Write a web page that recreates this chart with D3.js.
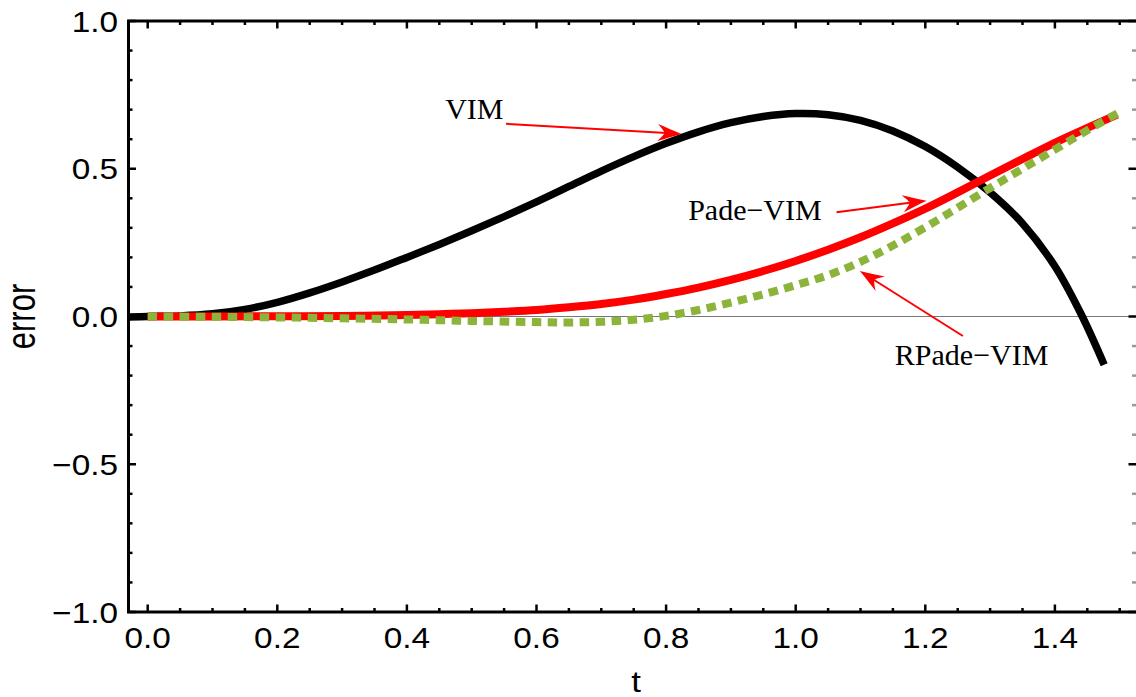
<!DOCTYPE html>
<html>
<head>
<meta charset="utf-8">
<script src="https://cdn.jsdelivr.net/npm/d3@7"></script>
<style>
	body { margin: 0; background: #fff; }
	svg { display: block; }
	.tick-label { font-family: "Liberation Sans", Arial, sans-serif; font-size: 29px; fill: #000; }
	.note { font-family: "Liberation Serif", "Times New Roman", serif; font-size: 30px; fill: #000; }
</style>
</head>
<body>
<svg id="chart"></svg>
<script>
const width = 1136
const height = 697

// VIM error (black)
const vimT = [-0.03, 0, 0.05, 0.1, 0.15, 0.2, 0.25, 0.3, 0.35, 0.4, 0.45, 0.5, 0.55, 0.6, 0.65, 0.7, 0.75, 0.8, 0.85, 0.9, 0.95, 1.0, 1.05, 1.1, 1.15, 1.2, 1.25, 1.3, 1.35, 1.4, 1.44, 1.476]
const vimErr = [-0.002, 0, 0.002, 0.009, 0.024, 0.048, 0.08, 0.117, 0.157, 0.2, 0.244, 0.29, 0.338, 0.388, 0.44, 0.492, 0.541, 0.586, 0.625, 0.656, 0.677, 0.687, 0.683, 0.664, 0.628, 0.575, 0.505, 0.42, 0.315, 0.17, 0.01, -0.163]

// Pade-VIM error (red)
const padeT = [0, 0.1, 0.2, 0.3, 0.4, 0.45, 0.5, 0.55, 0.6, 0.65, 0.7, 0.75, 0.8, 0.85, 0.9, 0.95, 1.0, 1.05, 1.1, 1.15, 1.2, 1.25, 1.3, 1.35, 1.4, 1.45, 1.496]
const padeErr = [0, 0, 0.001, 0.002, 0.005, 0.008, 0.011, 0.016, 0.022, 0.031, 0.042, 0.057, 0.076, 0.098, 0.124, 0.154, 0.188, 0.226, 0.268, 0.315, 0.365, 0.42, 0.477, 0.533, 0.588, 0.638, 0.683]

// RPade-VIM error (green, dotted)
const rpadeT = [0, 0.1, 0.2, 0.3, 0.4, 0.5, 0.6, 0.65, 0.7, 0.75, 0.8, 0.85, 0.9, 0.95, 1.0, 1.05, 1.1, 1.15, 1.2, 1.25, 1.3, 1.35, 1.4, 1.45, 1.505]
const rpadeErr = [0, -0.001, -0.003, -0.006, -0.01, -0.015, -0.019, -0.02, -0.018, -0.011, 0.002, 0.022, 0.047, 0.075, 0.106, 0.14, 0.185, 0.24, 0.302, 0.368, 0.435, 0.5, 0.565, 0.63, 0.698]

const xTicks = [0, 0.2, 0.4, 0.6, 0.8, 1.0, 1.2, 1.4]
const yTicks = [-1, -0.5, 0, 0.5, 1]

// annotation text + arrow, in data units
const noteLabels = ["VIM", "Pade\u2212VIM", "RPade\u2212VIM"]
const noteTextPos = [[0.459, 0.668], [0.834, 0.327], [1.153, -0.164]]
const noteArrowFrom = [[0.553, 0.652], [1.063, 0.353], [1.258, -0.066]]
const noteArrowTo = [[0.824, 0.618], [1.202, 0.392], [1.099, 0.154]]

const frame = { left: 128.5, right: 1138, top: 21, bottom: 612 }

const x = d3.scaleLinear()
	.domain([0, 1.4])
	.range([147.7, 147.7 + 1.4 * 648])
const y = d3.scaleLinear()
	.domain([-1, 1])
	.range([frame.bottom, frame.top])

const xMinor = d3.range(0, 1.55, 0.05).filter(t => x(t) < frame.right - 2)
const yMinor = d3.range(-10, 11, 1).map(d => d / 10)

const svg = d3.select("#chart")
	.attr("width", width)
	.attr("height", height)

// zero line
svg.append("line")
	.attr("x1", frame.left)
	.attr("x2", frame.right)
	.attr("y1", y(0))
	.attr("y2", y(0))
	.attr("stroke", "#777")
	.attr("stroke-width", 1.2)

// curves
const line = d3.line()
	.x(d => x(d[0]))
	.y(d => y(d[1]))
	.curve(d3.curveCatmullRom.alpha(0.5))

svg.append("path")
	.attr("d", line(d3.zip(vimT, vimErr)))
	.attr("fill", "none")
	.attr("stroke", "#000")
	.attr("stroke-width", 7.5)

svg.append("path")
	.attr("d", line(d3.zip(padeT, padeErr)))
	.attr("fill", "none")
	.attr("stroke", "#ff0000")
	.attr("stroke-width", 8)

svg.append("path")
	.attr("d", line(d3.zip(rpadeT, rpadeErr)))
	.attr("fill", "none")
	.attr("stroke", "#8db43a")
	.attr("stroke-width", 8)
	.attr("stroke-dasharray", "9.5,6.5")

// frame: left, bottom, top (right edge is off the page)
const framePath = `M${frame.right},${frame.top}H${frame.left}V${frame.bottom}H${frame.right}`
svg.append("path")
	.attr("d", framePath)
	.attr("fill", "none")
	.attr("stroke", "#000")
	.attr("stroke-width", 3)

// ticks on all four sides, pointing inward
function drawTicks(values, isMajor, side) {
	const len = isMajor ? 7.5 : 4
	const g = svg.append("g")
		.attr("stroke", side === "right" && !isMajor ? "#999" : "#000")
		.attr("stroke-width", 2.5)
	g.selectAll("line")
		.data(values)
		.enter().append("line")
		.attr("x1", d => side === "left" ? frame.left : side === "right" ? frame.right : x(d))
		.attr("x2", d => side === "left" ? frame.left + len : side === "right" ? frame.right - len - 2 : x(d))
		.attr("y1", d => side === "top" ? frame.top : side === "bottom" ? frame.bottom : y(d))
		.attr("y2", d => side === "top" ? frame.top + len : side === "bottom" ? frame.bottom - len : y(d))
}

const isMajorX = t => xTicks.some(m => Math.abs(m - t) < 1e-6)
const isMajorY = v => yTicks.some(m => Math.abs(m - v) < 1e-6)

drawTicks(xMinor.filter(t => !isMajorX(t)), false, "bottom")
drawTicks(xMinor.filter(t => !isMajorX(t)), false, "top")
drawTicks(xTicks, true, "bottom")
drawTicks(xTicks, true, "top")
drawTicks(yMinor.filter(v => !isMajorY(v)), false, "left")
drawTicks(yMinor.filter(v => !isMajorY(v)), false, "right")
drawTicks(yTicks, true, "left")
drawTicks(yTicks, true, "right")

// tick labels (wide sans face, so stretched a little horizontally)
const fmt = d3.format(".1f")

svg.append("g").selectAll("text")
	.data(xTicks)
	.enter().append("text")
	.attr("class", "tick-label")
	.attr("text-anchor", "middle")
	.attr("transform", d => `translate(${x(d)},648) scale(1.15,1)`)
	.text(d => fmt(d))

svg.append("g").selectAll("text")
	.data(yTicks)
	.enter().append("text")
	.attr("class", "tick-label")
	.attr("text-anchor", "end")
	.attr("transform", d => `translate(118,${y(d) + 10.5}) scale(1.15,1)`)
	.text(d => fmt(d))

// axis titles
svg.append("text")
	.attr("class", "tick-label")
	.attr("text-anchor", "middle")
	.attr("transform", "translate(636,692) scale(1.2,1)")
	.text("t")

svg.append("text")
	.attr("class", "tick-label")
	.style("font-size", "31px")
	.attr("text-anchor", "middle")
	.attr("transform", `translate(35,${y(0)}) scale(1.3,1) rotate(-90)`)
	.text("error")

// annotations
const notes = noteLabels.map((label, i) => ({
	label: label,
	pos: noteTextPos[i],
	from: noteArrowFrom[i],
	to: noteArrowTo[i]
}))

svg.append("g").selectAll("text")
	.data(notes)
	.enter().append("text")
	.attr("class", "note")
	.attr("x", d => x(d.pos[0]))
	.attr("y", d => y(d.pos[1]))
	.text(d => d.label)

const arrows = svg.append("g").selectAll("g")
	.data(notes)
	.enter().append("g")

function shaftEnd(d) {
	const dx = x(d.to[0]) - x(d.from[0]), dy = y(d.to[1]) - y(d.from[1])
	const l = Math.hypot(dx, dy)
	return [x(d.to[0]) - dx / l * 15, y(d.to[1]) - dy / l * 15]
}

arrows.append("line")
	.attr("x1", d => x(d.from[0]))
	.attr("y1", d => y(d.from[1]))
	.attr("x2", d => shaftEnd(d)[0])
	.attr("y2", d => shaftEnd(d)[1])
	.attr("stroke", "#ff0000")
	.attr("stroke-width", 2)

// swept-back arrow head
arrows.append("path")
	.attr("d", "M0,0 C-8,-2.5 -17,-6 -24,-8.5 C-20,-4.5 -18,-2 -17,0 C-18,2 -20,4.5 -24,8.5 C-17,6 -8,2.5 0,0 Z")
	.attr("transform", d => {
		const tx = x(d.to[0]), ty = y(d.to[1])
		const ang = Math.atan2(ty - y(d.from[1]), tx - x(d.from[0])) * 180 / Math.PI
		return `translate(${tx},${ty}) rotate(${ang})`
	})
	.attr("fill", "#ff0000")
</script>
</body>
</html>
